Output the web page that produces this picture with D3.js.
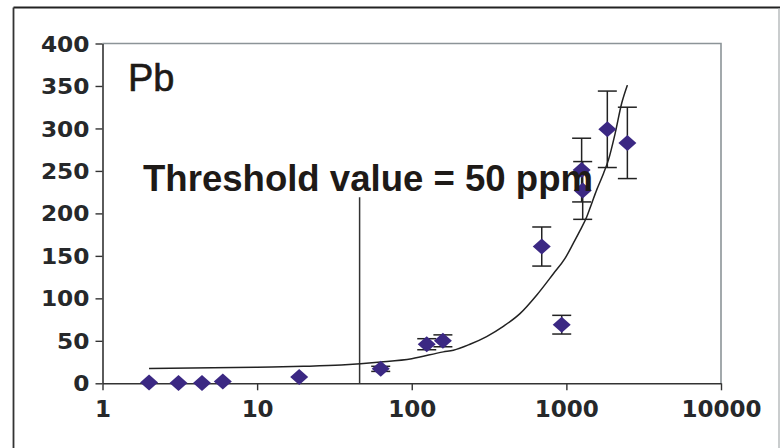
<!DOCTYPE html>
<html>
<head>
<meta charset="utf-8">
<script src="https://cdn.jsdelivr.net/npm/d3@7"></script>
<style>
  body { margin: 0; background: #fff; }
  svg { display: block; }
</style>
</head>
<body>
<div class="chartDiv"></div>
<script>
// Pb concentration vs. dose, log x axis

// measured points
let xValues = [2, 3.1, 4.4, 6, 18.7, 63, 125, 159, 693, 933, 1255, 1275, 1840, 2480];
let yValues = [1, 0.5, 0.5, 2, 7.4, 17, 46, 50, 161, 69, 251, 227, 299, 283];
let errValues = [0, 0, 0, 0, 0, 3, 6.5, 7, 23, 11, 37.5, 34, 45, 42];

// trend line
let trendX = [2, 10, 20, 35, 63, 100, 160, 186, 238, 305, 391, 501, 644, 824, 980,
              1110, 1227, 1355, 1460, 1573, 1738, 1871, 2066, 2281, 2480];
let trendY = [17.5, 19, 20, 21.5, 25, 29, 37, 39, 46, 55, 67, 82, 104, 129, 147,
              165, 180, 196, 212, 228, 247, 263, 294, 330, 351];

// threshold marker: x position and top of the line (in y units)
let thresholdX = 46;
let thresholdTop = 219;

let xTicks = [1, 10, 100, 1000, 10000];
let yTicks = [0, 50, 100, 150, 200, 250, 300, 350, 400];

let svgWidth = 780;
let svgHeight = 448;

let margin = { top: 43.5, left: 102.5, right: 59, bottom: 64.7 };
let graphWidth = svgWidth - margin.left - margin.right;
let graphHeight = svgHeight - margin.top - margin.bottom;

let svg = d3.select('.chartDiv')
            .append('svg')
            .attr('width', svgWidth)
            .attr('height', svgHeight);

// outer frame
svg.append('line')
   .attr('x1', 13.5).attr('y1', 7.5).attr('x2', svgWidth).attr('y2', 7.5)
   .attr('stroke', '#222').attr('stroke-width', 2.2);
svg.append('line')
   .attr('x1', 13.5).attr('y1', 7.5).attr('x2', 13.5).attr('y2', svgHeight)
   .attr('stroke', '#333').attr('stroke-width', 1.8);
svg.append('line')
   .attr('x1', 779).attr('y1', 8.5).attr('x2', 779).attr('y2', svgHeight)
   .attr('stroke', '#b8bcbe').attr('stroke-width', 1.5);

let chartGroup = svg.append('g')
                    .attr('transform', `translate(${margin.left}, ${margin.top})`);

let xScale = d3.scaleLog()
               .domain([1, 10000])
               .range([0, graphWidth]);

let yScale = d3.scaleLinear()
               .domain([0, 400])
               .range([graphHeight, 0]);

// plot area top and right edges (gray)
chartGroup.append('path')
          .attr('d', `M0,0H${graphWidth}V${graphHeight}`)
          .attr('fill', 'none')
          .attr('stroke', '#8c9498')
          .attr('stroke-width', 1.6);

let leftAxis = d3.axisLeft(yScale)
                 .tickValues(yTicks)
                 .tickSizeInner(7)
                 .tickSizeOuter(0)
                 .tickPadding(6);

let bottomAxis = d3.axisBottom(xScale)
                   .tickValues(xTicks)
                   .tickFormat(d3.format('d'))
                   .tickSizeInner(7)
                   .tickSizeOuter(0)
                   .tickPadding(10);

let yAxisG = chartGroup.append('g')
                       .classed('axis', true)
                       .call(leftAxis);

let xAxisG = chartGroup.append('g')
                       .classed('axis', true)
                       .attr('transform', `translate(0, ${graphHeight})`)
                       .call(bottomAxis);

[yAxisG, xAxisG].forEach(g => {
  g.select('.domain').attr('stroke', '#333').attr('stroke-width', 1.6);
  g.selectAll('.tick line').attr('stroke', '#333').attr('stroke-width', 1.4);
  g.selectAll('.tick text')
   .attr('fill', '#26282a')
   .attr('font-family', 'DejaVu Sans')
   .attr('font-weight', 'bold')
   .attr('lengthAdjust', 'spacingAndGlyphs');
});
// the original labels use wide digits, so stretch them
yAxisG.selectAll('.tick text')
      .attr('font-size', 21)
      .attr('dy', '0.36em')
      .attr('textLength', d => String(d).length * 16.2);
xAxisG.selectAll('.tick text')
      .attr('font-size', 23)
      .attr('textLength', d => String(d).length * 16);

// threshold line
chartGroup.append('line')
          .attr('x1', xScale(thresholdX)).attr('x2', xScale(thresholdX))
          .attr('y1', yScale(0)).attr('y2', yScale(thresholdTop))
          .attr('stroke', '#333')
          .attr('stroke-width', 1.5);

// trend line
let trendData = trendX.map((x, i) => ({ x: x, y: trendY[i] }));
let lineGen = d3.line()
                .x(d => xScale(d.x))
                .y(d => yScale(d.y))
                .curve(d3.curveMonotoneX);

chartGroup.append('path')
          .datum(trendData)
          .attr('d', lineGen)
          .attr('fill', 'none')
          .attr('stroke', '#222')
          .attr('stroke-width', 1.5);

let points = xValues.map((x, i) => ({ x: x, y: yValues[i], err: errValues[i] }));

// error bars
let bars = chartGroup.selectAll('.errbar')
                     .data(points.filter(d => d.err > 0))
                     .enter()
                     .append('g')
                     .classed('errbar', true)
                     .attr('stroke', '#222')
                     .attr('stroke-width', 1.5);

bars.append('line')
    .attr('x1', d => xScale(d.x)).attr('x2', d => xScale(d.x))
    .attr('y1', d => yScale(d.y - d.err)).attr('y2', d => yScale(d.y + d.err));
bars.append('line')
    .attr('x1', d => xScale(d.x) - 9.5).attr('x2', d => xScale(d.x) + 9.5)
    .attr('y1', d => yScale(d.y + d.err)).attr('y2', d => yScale(d.y + d.err));
bars.append('line')
    .attr('x1', d => xScale(d.x) - 9.5).attr('x2', d => xScale(d.x) + 9.5)
    .attr('y1', d => yScale(d.y - d.err)).attr('y2', d => yScale(d.y - d.err));

// diamonds
chartGroup.selectAll('.pt')
          .data(points)
          .enter()
          .append('path')
          .classed('pt', true)
          .attr('d', 'M0,-8L9,0L0,8L-9,0Z')
          .attr('transform', d => `translate(${xScale(d.x)}, ${yScale(d.y)})`)
          .attr('fill', '#3b2883');

// labels
chartGroup.append('text')
          .attr('x', 25.5)
          .attr('y', 47.5)
          .attr('font-family', 'Liberation Sans')
          .attr('font-size', 38)
          .attr('fill', '#1e1a17')
          .attr('stroke', '#1e1a17')
          .attr('stroke-width', 0.6)
          .text('Pb');

chartGroup.append('text')
          .attr('x', 40.5)
          .attr('y', 147.5)
          .attr('font-family', 'Liberation Sans')
          .attr('font-weight', 'bold')
          .attr('font-size', 37)
          .attr('textLength', 450)
          .attr('lengthAdjust', 'spacingAndGlyphs')
          .attr('fill', '#1e1a17')
          .text('Threshold value = 50 ppm');
</script>
</body>
</html>
